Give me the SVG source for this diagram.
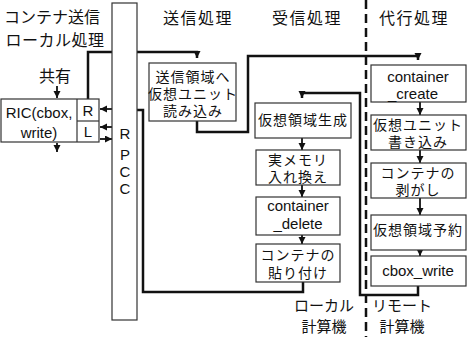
<svg xmlns="http://www.w3.org/2000/svg" width="468" height="337" viewBox="0 0 468 337">
<style>
text{font-family:"Liberation Sans","Noto Sans CJK JP",sans-serif;fill:#111;text-anchor:middle}
.h{font-size:16px;letter-spacing:1.5px}
.t{font-size:15px}
.b{font-size:14px;letter-spacing:1px}
.box{fill:#fff;stroke:#333;stroke-width:1.2}
.thick{fill:none;stroke:#111;stroke-width:2.5}
.arr{fill:none;stroke:#111;stroke-width:1.8}
.dash{fill:none;stroke:#111;stroke-width:2.5;stroke-dasharray:9 5}
</style>
<defs>
<marker id="ah" markerUnits="userSpaceOnUse" markerWidth="8" markerHeight="8" refX="7" refY="3.5" orient="auto">
<path d="M0,0 L7,3.5 L0,7 z" fill="#111"/>
</marker>
</defs>
<rect width="468" height="337" fill="#fff"/>
<g id="labels">
<text class="h" x="52" y="23" style="letter-spacing:0">コンテナ送信</text>
<text class="h" x="55" y="46" style="letter-spacing:0.5px">ローカル処理</text>
<text class="h" x="198" y="24">送信処理</text>
<text class="h" x="307" y="24">受信処理</text>
<text class="h" x="414" y="24">代行処理</text>
<text class="h" x="55" y="82" style="letter-spacing:0">共有</text>
<text class="t" x="324" y="311">ローカル</text>
<text class="t" x="324" y="332">計算機</text>
<text class="t" x="402" y="311">リモート</text>
<text class="t" x="402" y="332">計算機</text>
</g>
<g id="connectors">
<line class="dash" x1="366" y1="0" x2="366" y2="337"/>
<polyline class="thick" points="88,99 88,52 197,52 197,58" marker-end="url(#ah)"/>
<polyline class="thick" points="197,121 197,132 248,132 248,56 418,56 418,60" marker-end="url(#ah)"/>
<polyline class="thick" points="303,282 303,292 143,292 143,110 137,110"/>
<polyline class="thick" points="418,286 418,295 360,295 360,93 302,93 302,98" marker-end="url(#ah)"/>
<line class="arr" x1="57" y1="86" x2="57" y2="98" marker-end="url(#ah)"/>
<line class="arr" x1="57" y1="143" x2="57" y2="152" marker-end="url(#ah)"/>
<line class="arr" x1="112" y1="109" x2="100" y2="109" marker-end="url(#ah)"/>
<line class="arr" x1="112" y1="127" x2="100" y2="127" marker-end="url(#ah)"/>
<line class="arr" x1="100" y1="139" x2="112" y2="139" marker-end="url(#ah)"/>
<line class="arr" x1="302" y1="138" x2="302" y2="150" marker-end="url(#ah)"/>
<line class="arr" x1="302" y1="185" x2="302" y2="197" marker-end="url(#ah)"/>
<line class="arr" x1="302" y1="235" x2="302" y2="244" marker-end="url(#ah)"/>
<line class="arr" x1="420" y1="102" x2="420" y2="115" marker-end="url(#ah)"/>
<line class="arr" x1="420" y1="150" x2="420" y2="163" marker-end="url(#ah)"/>
<line class="arr" x1="420" y1="198" x2="420" y2="215" marker-end="url(#ah)"/>
<line class="arr" x1="420" y1="250" x2="420" y2="256" marker-end="url(#ah)"/>
</g>
<g id="rpcc">
<rect class="box" x="112" y="3" width="25" height="317"/>
<text class="t" x="125" y="139">R</text>
<text class="t" x="125" y="160">P</text>
<text class="t" x="125" y="177">C</text>
<text class="t" x="125" y="194">C</text>
</g>
<g id="ric">
<rect class="box" x="1" y="99" width="98" height="43"/>
<line stroke="#333" stroke-width="1.2" x1="77" y1="99" x2="77" y2="142"/>
<line stroke="#333" stroke-width="1.2" x1="77" y1="121" x2="99" y2="121"/>
<text class="t" x="39" y="118">RIC(cbox,</text>
<text class="t" x="39" y="138">write)</text>
<text class="t" x="88" y="116">R</text>
<text class="t" x="88" y="137">L</text>
</g>
<g id="send-read">
<rect class="box" x="149" y="63" width="87" height="58"/>
<text class="b" x="193" y="82">送信領域へ</text>
<text class="b" x="193" y="99">仮想ユニット</text>
<text class="b" x="193" y="116">読み込み</text>
</g>
<g id="vregion-create">
<rect class="box" x="255" y="103" width="96" height="35"/>
<text class="b" x="303" y="125">仮想領域生成</text>
</g>
<g id="mem-swap">
<rect class="box" x="256" y="150" width="84" height="35"/>
<text class="b" x="298" y="165">実メモリ</text>
<text class="b" x="298" y="182">入れ換え</text>
</g>
<g id="container-delete">
<rect class="box" x="256" y="197" width="84" height="38"/>
<text class="t" x="298" y="211">container</text>
<text class="t" x="298" y="229">_delete</text>
</g>
<g id="container-paste">
<rect class="box" x="256" y="244" width="84" height="38"/>
<text class="b" x="298" y="260">コンテナの</text>
<text class="b" x="298" y="278">貼り付け</text>
</g>
<g id="container-create">
<rect class="box" x="371" y="65" width="95" height="37"/>
<text class="t" x="418" y="82">container</text>
<text class="t" x="413" y="99">_create</text>
</g>
<g id="vunit-write">
<rect class="box" x="371" y="115" width="95" height="35"/>
<text class="b" x="418" y="130">仮想ユニット</text>
<text class="b" x="418" y="147">書き込み</text>
</g>
<g id="container-peel">
<rect class="box" x="371" y="163" width="95" height="35"/>
<text class="b" x="418" y="178">コンテナの</text>
<text class="b" x="418" y="195">剥がし</text>
</g>
<g id="vregion-reserve">
<rect class="box" x="371" y="215" width="95" height="35"/>
<text class="b" x="418" y="235">仮想領域予約</text>
</g>
<g id="cbox-write">
<rect class="box" x="371" y="256" width="95" height="30"/>
<text class="t" x="418" y="276">cbox_write</text>
</g>
</svg>
